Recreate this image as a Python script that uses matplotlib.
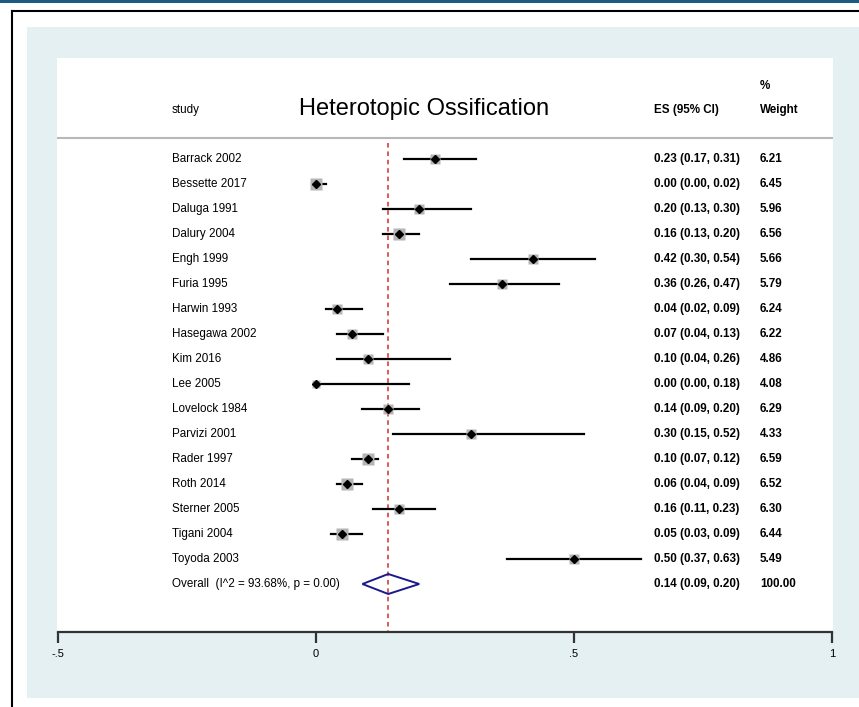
import matplotlib.pyplot as plt
from matplotlib.patches import Rectangle, Polygon
import numpy as np

plt.rcParams['font.family'] = ['Liberation Sans', 'DejaVu Sans']

# datos del forest plot
studies = ["Barrack 2002", "Bessette 2017", "Daluga 1991", "Dalury 2004", "Engh 1999",
           "Furia 1995", "Harwin 1993", "Hasegawa 2002", "Kim 2016", "Lee 2005",
           "Lovelock 1984", "Parvizi 2001", "Rader 1997", "Roth 2014", "Sterner 2005",
           "Tigani 2004", "Toyoda 2003"]
es = [0.23, 0.00, 0.20, 0.16, 0.42, 0.36, 0.04, 0.07, 0.10, 0.00,
      0.14, 0.30, 0.10, 0.06, 0.16, 0.05, 0.50]
lo = [0.17, 0.00, 0.13, 0.13, 0.30, 0.26, 0.02, 0.04, 0.04, 0.00,
      0.09, 0.15, 0.07, 0.04, 0.11, 0.03, 0.37]
hi = [0.31, 0.02, 0.30, 0.20, 0.54, 0.47, 0.09, 0.13, 0.26, 0.18,
      0.20, 0.52, 0.12, 0.09, 0.23, 0.09, 0.63]
weight = [6.21, 6.45, 5.96, 6.56, 5.66, 5.79, 6.24, 6.22, 4.86, 4.08,
          6.29, 4.33, 6.59, 6.52, 6.30, 6.44, 5.49]
overall_es, overall_lo, overall_hi = 0.14, 0.09, 0.20
overall_label = "Overall  (I^2 = 93.68%, p = 0.00)"
xticks = [-0.5, 0, 0.5, 1]
xticklabels = ["-.5", "0", ".5", "1"]

W, H = 859, 707
fig = plt.figure(figsize=(W / 100, H / 100), dpi=100)

# fondo: línea superior, marco negro y panel celeste
fig.patches.append(Rectangle((0, 1 - 3 / H), 1, 3 / H, transform=fig.transFigure,
                             facecolor="#1d5a82", edgecolor="none", zorder=-2))
fig.patches.append(Rectangle((27 / W, 1 - 698 / H), 1 - 27 / W, (698 - 27) / H,
                             transform=fig.transFigure, facecolor="#e4f0f2",
                             edgecolor="none", zorder=-2))
fig.lines.append(plt.Line2D([11.5 / W, 11.5 / W], [0, 1 - 11 / H], transform=fig.transFigure,
                            color="black", lw=1.5, zorder=-1))
fig.lines.append(plt.Line2D([11.5 / W, 1], [1 - 11 / H, 1 - 11 / H], transform=fig.transFigure,
                            color="black", lw=1.5, zorder=-1))

# ejes = zona blanca
x0, x1, y0, y1 = 57, 833, 58, 632
ax = fig.add_axes([x0 / W, 1 - y1 / H, (x1 - x0) / W, (y1 - y0) / H])
ax.set_facecolor("white")

px = 516.0
ax.set_xlim((x0 - 316) / px, (x1 - 316) / px)
row = 25.0
ax.set_ylim((y1 - 159) / row, (y0 - 159) / row)

n = len(studies)
ypos = np.arange(n)

# línea del efecto global
ax.plot([overall_es, overall_es], [-0.65, (y1 - 159) / row], color="#d03030",
        lw=1.1, ls=(0, (3, 2.5)), zorder=1)

# separador de cabecera
ax.axhline(-0.84, color="#b8b8b8", lw=1.5, zorder=1)

for i in range(n):
    ax.plot([lo[i], hi[i]], [ypos[i], ypos[i]], color="black", lw=1.6, zorder=2)
    ms = 8.0 * np.sqrt(weight[i] / 6.5)
    ax.plot(es[i], ypos[i], marker="s", ms=ms, color="#b5b5b5", mec="none", zorder=2.5)
    ax.plot(es[i], ypos[i], marker="D", ms=4.3, color="black", zorder=3)

yo = n
diamond = Polygon([[overall_lo, yo], [overall_es, yo - 0.4], [overall_hi, yo],
                   [overall_es, yo + 0.4]], closed=True, facecolor="none",
                  edgecolor="#1a1a8c", lw=1.4, zorder=3)
ax.add_patch(diamond)

# textos
xs = (172 - 316) / px
xe = (654 - 316) / px
xw = (760 - 316) / px
fs = 8.4
for i in range(n):
    ax.text(xs, ypos[i], studies[i], fontsize=fs, va="center", ha="left")
    ax.text(xe, ypos[i], f"{es[i]:.2f} ({lo[i]:.2f}, {hi[i]:.2f})", fontsize=fs,
            va="center", ha="left", fontweight="bold")
    ax.text(xw, ypos[i], f"{weight[i]:.2f}", fontsize=fs, va="center", ha="left",
            fontweight="bold")
ax.text(xs, yo, overall_label, fontsize=fs, va="center", ha="left")
ax.text(xe, yo, f"{overall_es:.2f} ({overall_lo:.2f}, {overall_hi:.2f})", fontsize=fs,
        va="center", ha="left", fontweight="bold")
ax.text(xw, yo, "100.00", fontsize=fs, va="center", ha="left", fontweight="bold")

yh = (110 - 159) / row
ax.text(xs, yh, "study", fontsize=fs, va="center", ha="left")
ax.text((424 - 316) / px, yh - 0.05, "Heterotopic Ossification", fontsize=17,
        va="center", ha="center")
ax.text(xe, yh, "ES (95% CI)", fontsize=fs, va="center", ha="left", fontweight="bold")
ax.text(xw, yh, "Weight", fontsize=fs, va="center", ha="left", fontweight="bold")
ax.text(xw, (86 - 159) / row, "%", fontsize=fs, va="center", ha="left", fontweight="bold")

# eje x
for s in ["top", "left", "right"]:
    ax.spines[s].set_visible(False)
ax.spines["bottom"].set_linewidth(1.6)
ax.spines["bottom"].set_color("#333333")
ax.spines["bottom"].set_bounds(-0.5, 1.0)
ax.set_xticks(xticks)
ax.set_xticklabels(xticklabels, fontsize=8)
ax.tick_params(axis="x", direction="out", length=8, width=1.6, color="#333333", pad=4)
ax.set_yticks([])

fig.savefig("out.png", dpi=100)
